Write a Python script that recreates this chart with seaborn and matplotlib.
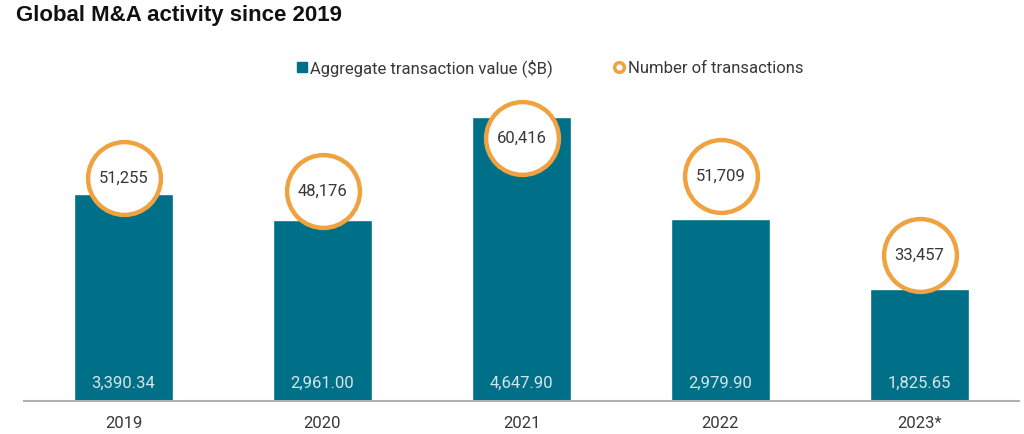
# Global M&A activity since 2019 - bars for value, rings for deal count
import matplotlib
matplotlib.use('Agg')
import matplotlib.pyplot as plt
from matplotlib.lines import Line2D
import pandas as pd
import seaborn as sns

# data
years = ['2019', '2020', '2021', '2022', '2023*']
agg_value = [3390.34, 2961.00, 4647.90, 2979.90, 1825.65]   # $B
num_deals = [51255, 48176, 60416, 51709, 33457]

teal = '#006f88'
orange = '#f0a240'
dark = '#383838'

sns.set_theme(style='white')
plt.rcParams['font.family'] = ['Roboto', 'DejaVu Sans']

df = pd.DataFrame({'year': years, 'value': agg_value, 'deals': num_deals})

fig = plt.figure(figsize=(10.24, 4.34), dpi=100)
ax = fig.add_axes([24 / 1024, 1 - 401 / 434, 995 / 1024, 311 / 434])

sns.barplot(data=df, x='year', y='value', color=teal, width=0.5,
            saturation=1, ax=ax)
ax.set_xlim(-0.5, 4.5)
ax.set_ylim(0, 5090)

# value labels at the foot of each bar
for i, v in enumerate(agg_value):
    ax.annotate(f'{v:,.2f}', xy=(i, 0), xytext=(0, 13), textcoords='offset points',
                ha='center', va='center', fontsize=12, color='#d5e6ea')

ax.set_xlabel('')
ax.set_ylabel('')
ax.set_yticks([])
ax.tick_params(axis='x', length=0, pad=11, labelsize=12, labelcolor=dark)
for side in ['top', 'left', 'right']:
    ax.spines[side].set_visible(False)
ax.spines['bottom'].set_color('#b0b0b0')
ax.spines['bottom'].set_linewidth(1.5)

# deal counts on a second scale, drawn as rings on top
ax2 = ax.twinx()
sns.scatterplot(data=df, x='year', y='deals', s=2750, color='white',
                edgecolor=orange, linewidth=3.2, ax=ax2, zorder=5, legend=False)
ax2.set_ylim(0, 71440)
ax2.set_xlim(-0.5, 4.5)
ax2.axis('off')
for i, n in enumerate(num_deals):
    ax2.text(i, n, f'{n:,}', ha='center', va='center', fontsize=12,
             color=dark, zorder=6)

fig.text(16 / 1024, 1 - 16 / 434, 'Global M&A activity since 2019',
         fontsize=16, fontweight='bold', color='#111111', va='center',
         family=['Liberation Sans', 'DejaVu Sans'])

handles = [
    Line2D([], [], marker='s', linestyle='', markersize=7.5,
           markerfacecolor=teal, markeredgecolor=teal),
    Line2D([], [], marker='o', linestyle='', markersize=7,
           markerfacecolor='white', markeredgecolor=orange, markeredgewidth=2.5),
]
fig.legend(handles, ['Aggregate transaction value ($B)', 'Number of transactions'],
           loc='center', bbox_to_anchor=(549 / 1024, 1 - 68 / 434), ncol=2,
           frameon=False, fontsize=12, handletextpad=0.1, columnspacing=3.6,
           handlelength=0.8, labelcolor=dark)

fig.savefig('out.png', dpi=100)
